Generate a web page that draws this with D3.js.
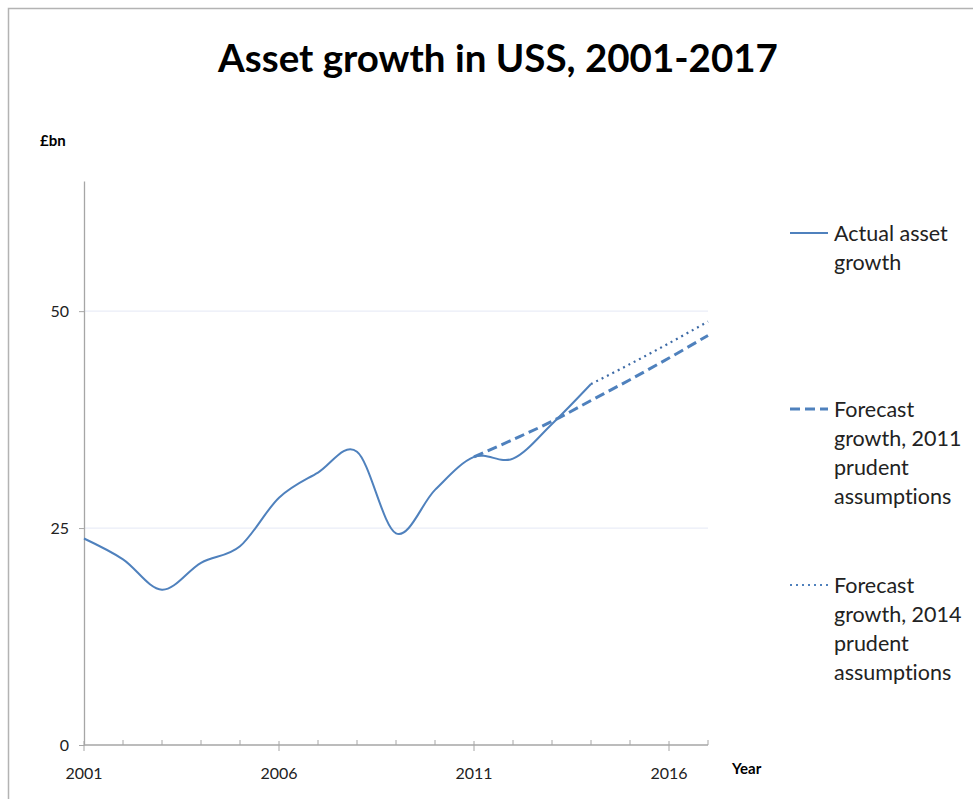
<!DOCTYPE html>
<html>
<head>
<meta charset="utf-8">
<script src="https://cdn.jsdelivr.net/npm/d3@7"></script>
<style>
  body { margin: 0; background: #fff; }
  text { font-family: Lato, "Open Sans", sans-serif; font-variant-ligatures: none; }
</style>
</head>
<body>
<div id="chart"></div>
<script>
// values, £bn
const actualYears = [2001, 2002, 2003, 2004, 2005, 2006, 2007, 2008, 2009, 2010, 2011, 2012, 2013, 2014]
const actualValues = [23.8, 21.4, 17.9, 21.0, 22.9, 28.5, 31.4, 33.8, 24.4, 29.4, 33.2, 33.0, 37.0, 41.6]

const forecast2011Years = [2011, 2012, 2013, 2014, 2015, 2016, 2017]
const forecast2011Values = [33.2, 35.2, 37.3, 39.7, 42.1, 44.6, 47.2]

const forecast2014Years = [2014, 2015, 2016, 2017]
const forecast2014Values = [41.6, 43.9, 46.3, 48.8]

const yTicks = [0, 25, 50]
const xLabelYears = [2001, 2006, 2011, 2016]
const legendLabels = [
  ["Actual asset", "growth"],
  ["Forecast", "growth, 2011", "prudent", "assumptions"],
  ["Forecast", "growth, 2014", "prudent", "assumptions"]
]

const W = 973, H = 799
const blue = "#4f81bd"

const svg = d3.select("#chart").append("svg")
  .attr("width", W)
  .attr("height", H)

// outer frame
svg.append("rect")
  .attr("x", 8.5).attr("y", 8.5)
  .attr("width", W + 10).attr("height", H + 10)
  .attr("fill", "none")
  .attr("stroke", "#b3b3b3")
  .attr("stroke-width", 1.5)

svg.append("text")
  .attr("x", 498).attr("y", 72)
  .attr("text-anchor", "middle")
  .style("font-size", "38.5px")
  .style("font-weight", "bold")
  .text("Asset growth in USS, 2001-2017")

const x = d3.scaleLinear().domain([2001, 2017]).range([84, 708])
const y = d3.scaleLinear().domain([0, 65]).range([745, 181])

// gridlines
svg.append("g").selectAll("line")
  .data(yTicks.filter(d => d > 0))
  .join("line")
  .attr("x1", x(2001)).attr("x2", x(2017))
  .attr("y1", d => y(d)).attr("y2", d => y(d))
  .attr("stroke", "#eaedf7")
  .attr("stroke-width", 1.2)

// y axis
const yAxis = svg.append("g")
  .attr("transform", `translate(${x(2001)},0)`)
  .call(d3.axisLeft(y).tickValues(yTicks).tickSize(5).tickSizeOuter(0).tickPadding(10))
yAxis.select(".domain").attr("stroke", "#a6a6a6").attr("stroke-width", 1.3)
yAxis.selectAll(".tick line").attr("stroke", "#a6a6a6")
yAxis.selectAll(".tick text").style("font-size", "16px").attr("fill", "#222").attr("font-family", null)

// x axis: minor ticks every year, major ticks crossing the axis
const xAxisG = svg.append("g")
svg.append("line")
  .attr("x1", x(2001)).attr("x2", x(2017))
  .attr("y1", y(0)).attr("y2", y(0))
  .attr("stroke", "#a6a6a6").attr("stroke-width", 1.3)
xAxisG.selectAll("line.minor")
  .data(d3.range(2002, 2018).filter(d => !xLabelYears.includes(d)))
  .join("line")
  .attr("x1", d => x(d)).attr("x2", d => x(d))
  .attr("y1", y(0) - 5).attr("y2", y(0))
  .attr("stroke", "#a6a6a6")
xAxisG.selectAll("line.major")
  .data(xLabelYears)
  .join("line")
  .attr("x1", d => x(d)).attr("x2", d => x(d))
  .attr("y1", y(0) - 4).attr("y2", y(0) + 6)
  .attr("stroke", "#a6a6a6")
xAxisG.selectAll("text")
  .data(xLabelYears)
  .join("text")
  .attr("x", d => x(d)).attr("y", 779)
  .attr("text-anchor", "middle")
  .attr("fill", "#222")
  .style("font-size", "16px")
  .text(d => d)

svg.append("text")
  .attr("x", 40).attr("y", 146)
  .style("font-size", "15px").style("font-weight", "bold")
  .text("£bn")
svg.append("text")
  .attr("x", 732).attr("y", 774)
  .style("font-size", "15px").style("font-weight", "bold")
  .text("Year")

// lines
const line = d3.line()
  .x(d => x(d[0]))
  .y(d => y(d[1]))
  .curve(d3.curveCardinal.tension(0))

svg.append("path")
  .datum(d3.zip(actualYears, actualValues))
  .attr("d", line)
  .attr("fill", "none")
  .attr("stroke", blue)
  .attr("stroke-width", 2)

svg.append("path")
  .datum(d3.zip(forecast2011Years, forecast2011Values))
  .attr("d", line)
  .attr("fill", "none")
  .attr("stroke", blue)
  .attr("stroke-width", 3)
  .attr("stroke-dasharray", "10,5")

svg.append("path")
  .datum(d3.zip(forecast2014Years, forecast2014Values))
  .attr("d", line)
  .attr("fill", "none")
  .attr("stroke", "#3d6aa6")
  .attr("stroke-width", 2.2)
  .attr("stroke-dasharray", "2,4")

// legend
const legendY = [233, 409, 585]
const legendDash = [null, "10,5", "2,4"]
const legendWidth = [2, 3, 2.2]
const legend = svg.append("g")
legendLabels.forEach((lines, i) => {
  legend.append("line")
    .attr("x1", 790).attr("x2", 828)
    .attr("y1", legendY[i]).attr("y2", legendY[i])
    .attr("stroke", blue)
    .attr("stroke-width", legendWidth[i])
    .attr("stroke-dasharray", legendDash[i])
  legend.append("text")
    .attr("x", 834).attr("y", legendY[i] + 7.5)
    .style("font-size", "21.5px")
    .attr("fill", "#222")
    .selectAll("tspan")
    .data(lines)
    .join("tspan")
    .attr("x", 834)
    .attr("dy", (d, j) => j === 0 ? 0 : 29.3)
    .text(d => d)
})
</script>
</body>
</html>
